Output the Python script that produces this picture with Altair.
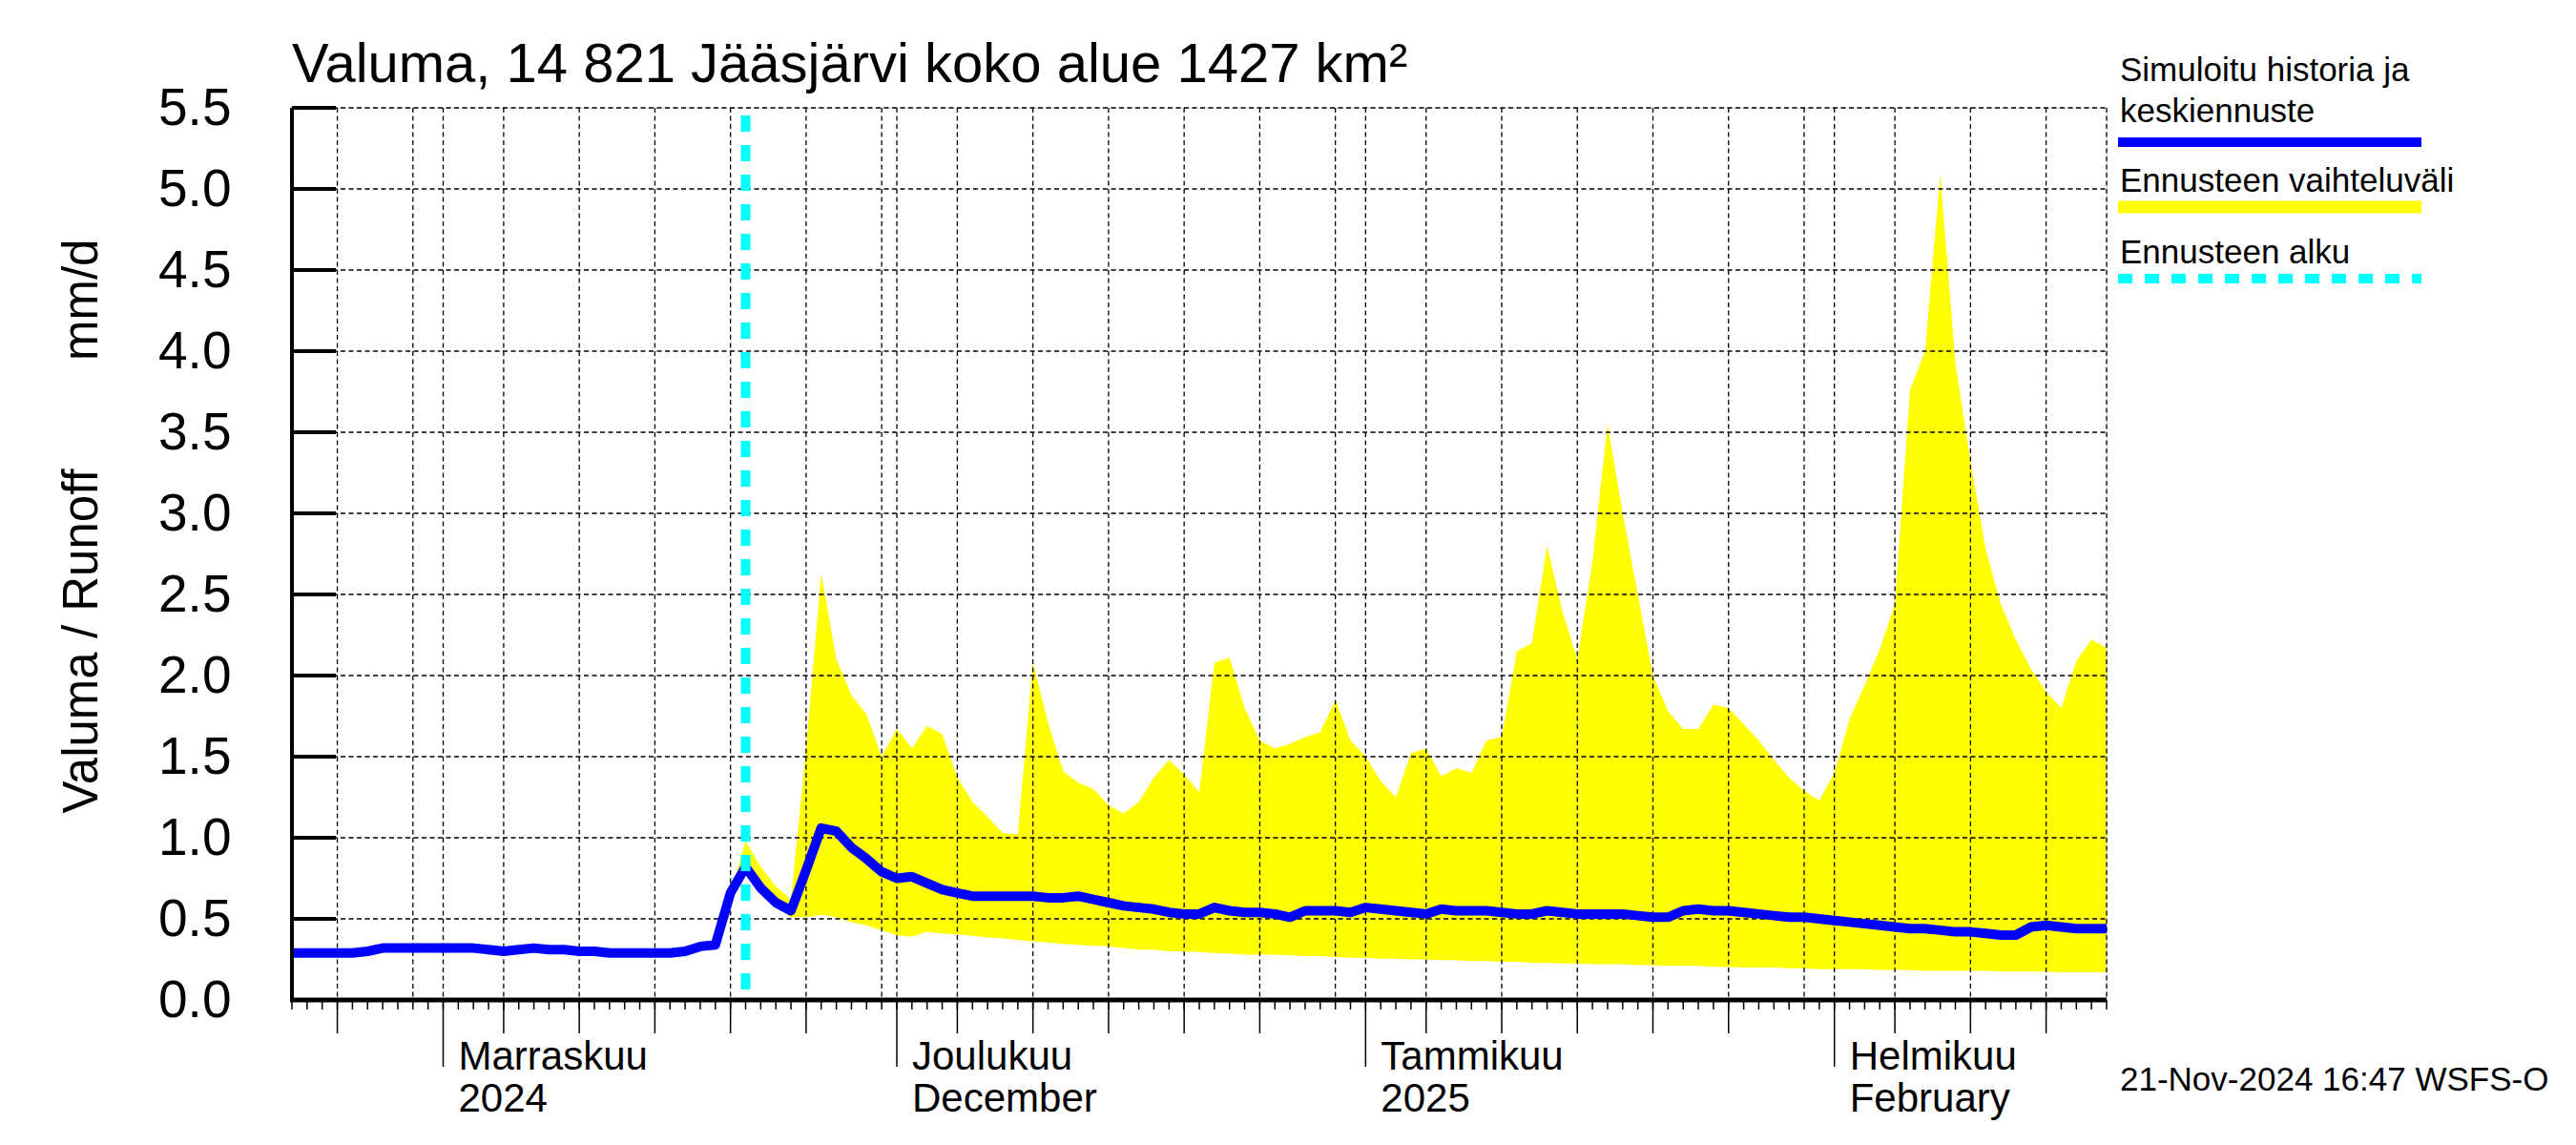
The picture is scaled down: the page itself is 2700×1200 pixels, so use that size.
import altair as alt
import pandas as pd

# ---------------- data ----------------
TITLE = "Valuma, 14 821 Jääsjärvi koko alue 1427 km²"
Y_TITLE = "Valuma / Runoff" + "\u00a0" * 8 + "mm/d"
FOOTER = "21-Nov-2024 16:47 WSFS-O"
FORECAST_START = "2024-11-21"

line_dates = pd.date_range("2024-10-22", "2025-02-19", freq="D").strftime("%Y-%m-%d")
mean_runoff = [
    # Oct 22 - Oct 31
    0.29, 0.29, 0.29, 0.29, 0.29, 0.30, 0.32, 0.32, 0.32, 0.32,
    # Nov 1 - Nov 10
    0.32, 0.32, 0.32, 0.31, 0.30, 0.31, 0.32, 0.31, 0.31, 0.30,
    # Nov 11 - Nov 20
    0.30, 0.29, 0.29, 0.29, 0.29, 0.29, 0.30, 0.33, 0.34, 0.66,
    # Nov 21 - Nov 30
    0.82, 0.69, 0.60, 0.55, 0.80, 1.06, 1.04, 0.94, 0.87, 0.79,
    # Dec 1 - Dec 10
    0.75, 0.76, 0.72, 0.68, 0.66, 0.64, 0.64, 0.64, 0.64, 0.64,
    # Dec 11 - Dec 20
    0.63, 0.63, 0.64, 0.62, 0.60, 0.58, 0.57, 0.56, 0.54, 0.53,
    # Dec 21 - Dec 31
    0.53, 0.57, 0.55, 0.54, 0.54, 0.53, 0.51, 0.55, 0.55, 0.55, 0.54,
    # Jan 1 - Jan 10
    0.57, 0.56, 0.55, 0.54, 0.53, 0.56, 0.55, 0.55, 0.55, 0.54,
    # Jan 11 - Jan 20
    0.53, 0.53, 0.55, 0.54, 0.53, 0.53, 0.53, 0.53, 0.52, 0.51,
    # Jan 21 - Jan 31
    0.51, 0.55, 0.56, 0.55, 0.55, 0.54, 0.53, 0.52, 0.51, 0.51, 0.50,
    # Feb 1 - Feb 10
    0.49, 0.48, 0.47, 0.46, 0.45, 0.44, 0.44, 0.43, 0.42, 0.42,
    # Feb 11 - Feb 19
    0.41, 0.40, 0.40, 0.45, 0.46, 0.45, 0.44, 0.44, 0.44,
]

band_dates = pd.date_range("2024-11-20", "2025-02-19", freq="D").strftime("%Y-%m-%d")
band_upper = [
    # Nov 20 - Nov 30
    0.66, 0.98, 0.82, 0.70, 0.62, 1.55, 2.63, 2.10, 1.88, 1.76, 1.50,
    # Dec 1 - Dec 10
    1.67, 1.55, 1.69, 1.64, 1.37, 1.22, 1.13, 1.03, 1.02, 2.08,
    # Dec 11 - Dec 20
    1.71, 1.41, 1.34, 1.30, 1.20, 1.15, 1.22, 1.37, 1.48, 1.39,
    # Dec 21 - Dec 31
    1.28, 2.08, 2.11, 1.80, 1.60, 1.55, 1.58, 1.62, 1.65, 1.85, 1.60,
    # Jan 1 - Jan 10
    1.50, 1.35, 1.25, 1.52, 1.55, 1.38, 1.43, 1.40, 1.60, 1.62,
    # Jan 11 - Jan 20
    2.15, 2.20, 2.80, 2.40, 2.10, 2.70, 3.55, 3.00, 2.50, 2.00,
    # Jan 21 - Jan 31
    1.78, 1.67, 1.67, 1.82, 1.80, 1.70, 1.60, 1.48, 1.37, 1.29, 1.23,
    # Feb 1 - Feb 10
    1.40, 1.73, 1.94, 2.16, 2.44, 3.76, 4.00, 5.09, 3.93, 3.32,
    # Feb 11 - Feb 19
    2.78, 2.44, 2.22, 2.04, 1.90, 1.80, 2.09, 2.22, 2.17,
]
band_lower = [
    0.66, 0.80, 0.66, 0.57, 0.51, 0.51, 0.525, 0.51, 0.48, 0.46, 0.43,
    0.40, 0.39, 0.42, 0.41, 0.405, 0.395, 0.385, 0.38, 0.37, 0.36,
    0.355, 0.345, 0.34, 0.335, 0.33, 0.32, 0.31, 0.31, 0.30, 0.30,
    0.295, 0.29, 0.285, 0.28, 0.28, 0.28, 0.275, 0.27, 0.27, 0.265, 0.26,
    0.26, 0.255, 0.255, 0.25, 0.25, 0.245, 0.245, 0.24, 0.24, 0.235,
    0.235, 0.23, 0.23, 0.225, 0.225, 0.22, 0.22, 0.22, 0.215, 0.215,
    0.21, 0.21, 0.21, 0.205, 0.205, 0.20, 0.20, 0.20, 0.195, 0.195, 0.19,
    0.19, 0.19, 0.19, 0.185, 0.185, 0.185, 0.18, 0.18, 0.18, 0.18,
    0.18, 0.175, 0.175, 0.175, 0.175, 0.17, 0.17, 0.17, 0.17,
]

month_dates = ["2024-11-01", "2024-12-01", "2025-01-01", "2025-02-01"]
month_names = ["Marraskuu", "Joulukuu", "Tammikuu", "Helmikuu"]
month_sub = ["2024", "December", "2025", "February"]

y_ticks = [0.0, 0.5, 1.0, 1.5, 2.0, 2.5, 3.0, 3.5, 4.0, 4.5, 5.0, 5.5]

legend_labels = ["Simuloitu historia ja", "keskiennuste", "Ennusteen vaihteluväli", "Ennusteen alku"]

# tick / grid positions on the time axis
all_days = pd.date_range("2024-10-22", "2025-02-19", freq="D")
minor_tick_dates = all_days.strftime("%Y-%m-%d")
mid_tick_dates = all_days[all_days.day.isin([5, 10, 15, 20, 25])].strftime("%Y-%m-%d")
grid_dates = all_days[all_days.day.isin([1, 5, 10, 15, 20, 25, 30])].strftime("%Y-%m-%d")

# ---------------- layout ----------------
W, H = 1902, 935
FONT = "Liberation Sans"
BLUE, YELLOW, CYAN = "#0000FF", "#FFFF00", "#00FFFF"

xscale = alt.Scale(type="utc", domain=[alt.DateTime(year=2024, month=10, date=22, utc=True),
                                       alt.DateTime(year=2025, month=2, date=19, utc=True)])
yscale = alt.Scale(domain=[0, 5.5], nice=False, zero=True)

df_line = pd.DataFrame({"date": line_dates, "runoff": mean_runoff})
df_band = pd.DataFrame({"date": band_dates, "upper": band_upper, "lower": band_lower})
df_months = pd.DataFrame({"date": month_dates, "name": month_names, "sub": month_sub})
df_yt = pd.DataFrame({"v": y_ticks})
df_hgrid = pd.DataFrame({"v": y_ticks[1:]})
df_minor = pd.DataFrame({"date": minor_tick_dates})
df_mid = pd.DataFrame({"date": mid_tick_dates})
df_grid = pd.DataFrame({"date": grid_dates})
df_fc = pd.DataFrame({"date": [FORECAST_START]})

X = lambda: alt.X("date:T", scale=xscale, axis=None)

area = alt.Chart(df_band).mark_area(color=YELLOW, opacity=1, interpolate="linear").encode(
    x=X(),
    y=alt.Y("upper:Q", scale=yscale, axis=alt.Axis(
        values=y_ticks, format=".1f", domain=False, ticks=False, grid=False,
        labelFont=FONT, labelFontSize=55, labelColor="black", labelPadding=64,
        title=Y_TITLE, titleFont=FONT, titleFontSize=51, titleFontWeight="normal",
        titleColor="black", titleAngle=270, titleX=-220, titleY=438,
        titleAlign="center", titleBaseline="middle")),
    y2="lower:Q",
)

dash = [5, 3.5]
hgrid = alt.Chart(df_hgrid).mark_rule(color="black", strokeWidth=1.3, strokeDash=dash).encode(
    y=alt.Y("v:Q", scale=yscale), x=alt.value(0), x2=alt.value(W))
vgrid = alt.Chart(df_grid).mark_rule(color="black", strokeWidth=1.3, strokeDash=dash).encode(
    x=X(), y=alt.value(0), y2=alt.value(H))
rgrid = alt.Chart(df_fc).mark_rule(color="black", strokeWidth=1.3, strokeDash=dash).encode(
    x=alt.value(W), y=alt.value(0), y2=alt.value(H))

line = alt.Chart(df_line).mark_line(color=BLUE, strokeWidth=10, strokeJoin="round").encode(
    x=X(), y=alt.Y("runoff:Q", scale=yscale))

fc = alt.Chart(df_fc).mark_rule(color=CYAN, strokeWidth=10, strokeDash=[17, 14]).encode(
    x=X(), y=alt.value(8), y2=alt.value(H))

# axes lines & ticks
left_axis = alt.Chart(df_fc).mark_rule(color="black", strokeWidth=4).encode(
    x=alt.value(0), y=alt.value(0), y2=alt.value(H + 2))
bottom_axis = alt.Chart(df_fc).mark_rule(color="black", strokeWidth=5).encode(
    x=alt.value(-2), x2=alt.value(W), y=alt.value(H))
ytick = alt.Chart(df_yt).mark_rule(color="black", strokeWidth=4).encode(
    y=alt.Y("v:Q", scale=yscale), x=alt.value(0), x2=alt.value(46))
minor = alt.Chart(df_minor).mark_rule(color="black", strokeWidth=1.5).encode(
    x=X(), y=alt.value(H), y2=alt.value(H + 10))
mid = alt.Chart(df_mid).mark_rule(color="black", strokeWidth=1.5).encode(
    x=X(), y=alt.value(H), y2=alt.value(H + 35))
major = alt.Chart(df_months).mark_rule(color="black", strokeWidth=1.5).encode(
    x=X(), y=alt.value(H), y2=alt.value(H + 70))
mlab1 = alt.Chart(df_months).mark_text(align="left", baseline="alphabetic", dx=16,
                                       font=FONT, fontSize=42, color="black").encode(
    x=X(), y=alt.value(H + 73), text="name:N")
mlab2 = alt.Chart(df_months).mark_text(align="left", baseline="alphabetic", dx=16,
                                       font=FONT, fontSize=42, color="black").encode(
    x=X(), y=alt.value(H + 117), text="sub:N")

# chart title drawn above the plot area
title = alt.Chart(pd.DataFrame({"t": [TITLE]})).mark_text(
    align="left", baseline="alphabetic", font=FONT, fontSize=58, color="black").encode(
    x=alt.value(0), y=alt.value(-27), text="t:N")

# legend (drawn at the right of the plot)
LX = 1916
def leg_text(label, y):
    return alt.Chart(pd.DataFrame({"t": [label]})).mark_text(
        align="left", baseline="alphabetic", font=FONT, fontSize=35, color="black").encode(
        x=alt.value(LX), y=alt.value(y), text="t:N")

def leg_bar(label, y, color, width, dashp=None):
    kw = dict(color=color, strokeWidth=width)
    if dashp:
        kw["strokeDash"] = dashp
    return alt.Chart(pd.DataFrame({"t": [label]})).mark_rule(**kw).encode(
        x=alt.value(LX - 2), x2=alt.value(LX + 316), y=alt.value(y))

legend = [
    leg_text(legend_labels[0], -28), leg_text(legend_labels[1], 15),
    leg_bar(legend_labels[0], 36, BLUE, 10),
    leg_text(legend_labels[2], 88), leg_bar(legend_labels[2], 104, YELLOW, 13),
    leg_text(legend_labels[3], 163), leg_bar(legend_labels[3], 179, CYAN, 10, [15, 13]),
]
footer = alt.Chart(pd.DataFrame({"t": [FOOTER]})).mark_text(
    align="left", baseline="alphabetic", font=FONT, fontSize=35, color="black").encode(
    x=alt.value(LX), y=alt.value(H + 95), text="t:N")

chart = alt.layer(
    area, hgrid, vgrid, rgrid, line, fc, ytick, minor, mid, major, left_axis, bottom_axis,
    mlab1, mlab2, title, *legend, footer,
).properties(
    width=W, height=H,
    autosize=alt.AutoSizeParams(type="none"),
    padding={"left": 298, "top": 105, "right": 484, "bottom": 144},
).configure_view(strokeWidth=0).configure(background="white")

chart.save("out.html", embed_options={"renderer": "svg", "actions": False})
